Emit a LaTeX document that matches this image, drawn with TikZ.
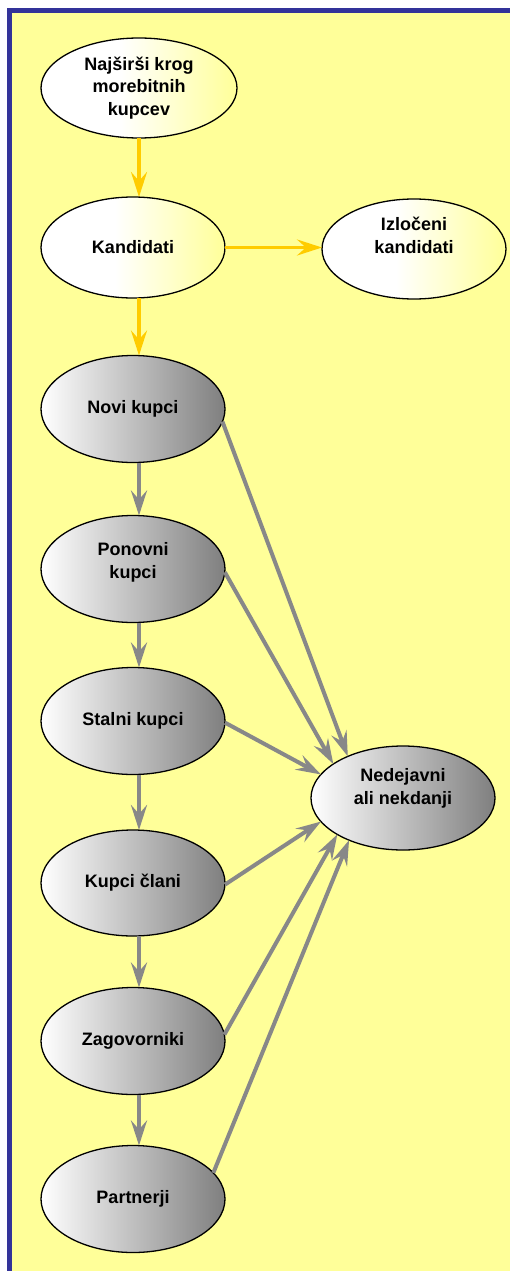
\documentclass[tikz,border=0pt]{standalone}
\usepackage{fontspec}
\setmainfont{Liberation Sans}
\usetikzlibrary{shapes.geometric,arrows.meta}

\definecolor{paper}{HTML}{FFFF99}
\definecolor{frameblue}{HTML}{333399}
\definecolor{flowyellow}{HTML}{FFCC00}
\definecolor{flowgrey}{HTML}{888888}
\definecolor{shadegrey}{HTML}{7F7F7F}

% white on the left half, fading to pale yellow on the right
\pgfdeclarehorizontalshading{paleyellow}{100bp}{color(0bp)=(white); color(25bp)=(white); color(45bp)=(white); color(75bp)=(paper); color(100bp)=(paper)}

% several centred lines, lifted by #1 around the node centre
\newcommand\stacklines[2]{\raisebox{#1}[0pt][0pt]{\begin{tabular}{@{}c@{}}#2\end{tabular}}}

\begin{document}
\begin{tikzpicture}[x=1pt,y=-1pt,
  every node/.style={font=\fontsize{18}{22.5}\selectfont\bfseries, inner sep=0pt, outer sep=0pt},
  stage/.style={ellipse, draw=black, line width=1.3pt},
  prospect/.style={stage, shading=paleyellow},
  client/.style={stage, left color=white, right color=shadegrey},
  tipshape/.style={-{Stealth[length=25pt, width=16pt, inset=9pt]}},
  yellowflow/.style={tipshape, draw=flowyellow, line width=3.5pt},
  greyflow/.style={tipshape, draw=flowgrey, line width=4pt},
]
\useasboundingbox (0,0) rectangle (510,1271);
\clip (0,0) rectangle (510,1271);

% page and frame
\fill[white] (0,0) rectangle (510,1271);
\filldraw[fill=paper, draw=frameblue, line width=4.5pt] (9.5,10.5) rectangle (540,1300);

% prospects
\node[prospect, minimum width=196pt, minimum height=100pt] (broad) at (139,88)
  {\stacklines{-4.5pt}{Najširši krog\\morebitnih\\kupcev}};
\node[prospect, minimum width=184pt, minimum height=101pt] (cand) at (133,247.5) {Kandidati};
\node[prospect, minimum width=184pt, minimum height=100pt] (out) at (414,249)
  {\stacklines{7pt}{Izločeni\\kandidati}};

% customer ladder
\node[client, minimum width=184pt, minimum height=107pt] (novi) at (133,409) {Novi kupci};
\node[client, minimum width=184pt, minimum height=107pt] (ponovni) at (133,569)
  {\stacklines{2pt}{Ponovni\\kupci}};
\node[client, minimum width=184pt, minimum height=107pt] (stalni) at (133,721) {Stalni kupci};
\node[client, minimum width=184pt, minimum height=106pt] (clani) at (133,883) {Kupci člani};
\node[client, minimum width=184pt, minimum height=107pt] (zagov) at (133,1041) {Zagovorniki};
\node[client, minimum width=184pt, minimum height=107pt] (partner) at (133,1199) {Partnerji};

\node[client, minimum width=184pt, minimum height=104pt] (lapsed) at (403,798)
  {\stacklines{5pt}{Nedejavni\\ali nekdanji}};

% vertical axis of the flow
\coordinate (spine) at (139,0);

\draw[yellowflow] (broad.south -| spine) -- (cand.north -| spine);
\draw[yellowflow] (cand.east) -- (cand.east -| out.west);
\draw[yellowflow] (cand.south -| spine) -- (novi.north -| spine);

\draw[greyflow] (novi.south -| spine) -- (ponovni.north -| spine);
\draw[greyflow] (ponovni.south -| spine) -- (stalni.north -| spine);
\draw[greyflow] (stalni.south -| spine) -- (clani.north -| spine);
\draw[greyflow] (clani.south -| spine) -- (zagov.north -| spine);
\draw[greyflow] (zagov.south -| spine) -- (partner.north -| spine);

\draw[greyflow] (novi.-8) -- (lapsed.143);
\draw[greyflow] (ponovni.-2) -- (lapsed.154);
\draw[greyflow] (stalni.-1) -- (lapsed.164);
\draw[greyflow] (clani.-1) -- (lapsed.196);
\draw[greyflow] (zagov.4) -- (lapsed.209);
\draw[greyflow] (partner.18) -- (lapsed.218);
\end{tikzpicture}
\end{document}
